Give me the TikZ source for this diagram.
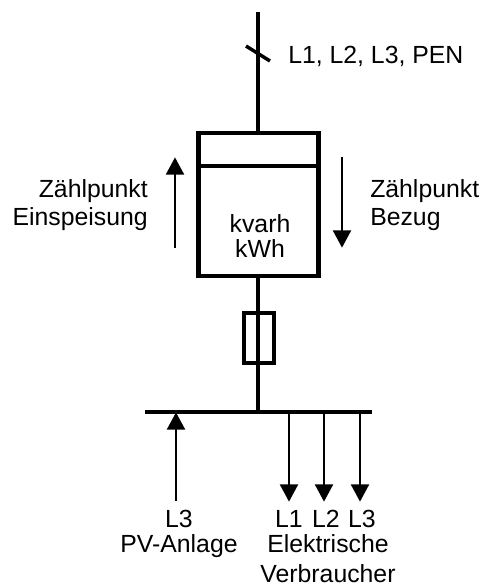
\documentclass[tikz,border=0pt]{standalone}
\usepackage{fontspec}
\setmainfont{Liberation Sans}
\usetikzlibrary{arrows.meta}
\tikzset{
  x=0.75pt,y=-0.75pt,
  thick line/.style={line width=3.3pt,line cap=butt},
  thin arrow/.style={line width=1.7pt,-{Triangle[length=13pt,width=13.5pt]},shorten >=-0.5pt},
  label/.style={font=\fontsize{18.6}{22}\selectfont,inner sep=0pt,align=center},
}
\begin{document}
\begin{tikzpicture}
\useasboundingbox (0,0) rectangle (482,586);
% main lines
\coordinate (top) at (258,12);
\coordinate (bus) at (258,412);
\coordinate (busl) at (145,412);
\coordinate (busr) at (372,412);
\node[draw,line width=3.2pt,inner sep=0pt,minimum width=90pt,minimum height=107.25pt] (meter) at (258.5,204.5) {};
\node[draw,line width=3pt,inner sep=0pt,minimum width=22.5pt,minimum height=37.5pt] (fuse) at (258.5,338) {};
\coordinate (meterl) at (199,166);
\coordinate (meterr) at (319,166);
\draw[thick line] (top) -- (top |- meter.north);
\draw[thick line] (bus |- meter.south) -- (bus);
\draw[thick line] (busl) -- (busr);
\draw[thick line] (meterl) -- (meterr);
\coordinate (sa) at (246,46);
\coordinate (sb) at (270,61);
\draw[line width=2.6pt] (sa) -- (sb);
% meter arrows
\coordinate (ua) at (175,248);
\coordinate (ub) at (175,158);
\coordinate (da) at (342,157);
\coordinate (db) at (342,247);
\draw[thin arrow] (ua) -- (ub);
\draw[thin arrow] (da) -- (db);
% bus arrows
\coordinate (pva) at (176,501);
\coordinate (pvb) at (176,413);
\draw[thin arrow] (pva) -- (pvb);
\coordinate (l1a) at (289,412);\coordinate (l1b) at (289,501);
\coordinate (l2a) at (324,412);\coordinate (l2b) at (324,501);
\coordinate (l3a) at (360,412);\coordinate (l3b) at (360,501);
\draw[thin arrow] (l1a) -- (l1b);
\draw[thin arrow] (l2a) -- (l2b);
\draw[thin arrow] (l3a) -- (l3b);
% labels
\node[label,anchor=base west] (netz) at (288,63) {L1, L2, L3, PEN};
\node[label,anchor=base] (kvarh) at (260,232) {kvarh};
\node[label,anchor=base] (kwh) at (260,257) {kWh};
\node[label,anchor=base east] (e1) at (148,197) {Zählpunkt};
\node[label,anchor=base east] (e2) at (148,225) {Einspeisung};
\node[label,anchor=base west] (b1) at (370,197) {Zählpunkt};
\node[label,anchor=base west] (b2) at (370,225) {Bezug};
\node[label,anchor=base] (pv1) at (179,527) {L3};
\node[label,anchor=base] (pv2) at (179,552) {PV-Anlage};
\node[label,anchor=base] (v1) at (289,527) {L1};
\node[label,anchor=base] (v2) at (326,527) {L2};
\node[label,anchor=base] (v3) at (362,527) {L3};
\node[label,anchor=base] (v4) at (328,552) {Elektrische};
\node[label,anchor=base] (v5) at (328,582) {Verbraucher};
\end{tikzpicture}
\end{document}
